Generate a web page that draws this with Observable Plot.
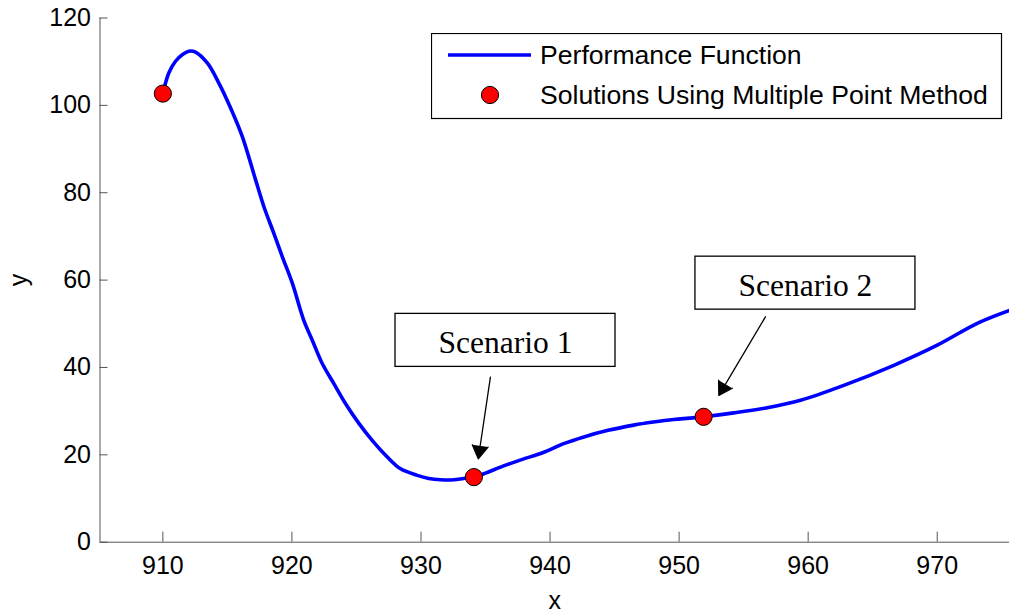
<!DOCTYPE html>
<html>
<head>
<meta charset="utf-8">
<script src="https://cdn.jsdelivr.net/npm/d3@7"></script>
<script src="https://cdn.jsdelivr.net/npm/@observablehq/plot@0.6"></script>
<style>
  html, body { margin: 0; padding: 0; background: #fff; overflow: hidden; }
  #wrap { position: relative; width: 1009px; height: 613px; }
  #legend { position: absolute; left: 431px; top: 33px; }
</style>
</head>
<body>
<div id="wrap"></div>
<script>
// Performance function, sampled along x
const curveX = [910.0, 910.46, 910.98, 911.5, 912.01, 912.53, 913.44, 914.34, 915.25, 916.15,
  917.18, 917.83, 918.6, 919.25, 920.03, 920.92, 921.57, 922.35, 923.25, 924.16,
  925.19, 926.22, 927.39, 928.42, 929.71, 930.6, 931.52, 932.55, 933.3, 934.1,
  935.0, 936.16, 937.8, 939.52, 941.0, 942.62, 944.5, 946.49, 948.0, 949.59,
  950.8, 951.87, 954.24, 956.83, 959.41, 962.76, 966.64, 970.0, 973.1, 975.55];
const curveY = [102.7, 107.4, 110.1, 111.6, 112.4, 112.2, 109.7, 105.1, 99.4, 92.9,
  83.0, 76.8, 70.7, 65.4, 59.3, 50.8, 46.3, 40.9, 36.3, 31.7,
  27.2, 23.3, 19.5, 16.8, 15.3, 14.6, 14.3, 14.3, 14.6, 14.9,
  15.8, 17.2, 18.9, 20.6, 22.5, 24.1, 25.6, 26.8, 27.5, 28.1,
  28.4, 28.7, 29.6, 30.8, 32.5, 35.9, 40.5, 45.1, 50.1, 53.0];

// Solutions found with the multiple point method
const solutionX = [910.0, 934.1, 951.9];
const solutionY = [102.7, 14.9, 28.7];

// Series names shown in the legend
const seriesNames = ["Performance Function", "Solutions Using Multiple Point Method"];

// Axis ticks
const xTicks = [910, 920, 930, 940, 950, 960, 970];
const yTicks = [0, 20, 40, 60, 80, 100, 120];
const xDomain = [905.13, 975.6];
const yDomain = [0, 120];

// Scenario call-outs: label text, label centre and arrow (data units)
const scenarioLabels = ["Scenario 1", "Scenario 2"];
const labelAt = [[936.55, 46.2], [959.79, 59.3]];
const arrowFrom = [[935.38, 37.8], [956.69, 51.6]];
const arrowTo = [[934.44, 19.1], [953.08, 33.6]];

const curve = curveX.map((x, i) => ({x, y: curveY[i]}));
const solutions = solutionX.map((x, i) => ({x, y: solutionY[i]}));
const notes = scenarioLabels.map((label, i) => ({
  label,
  x: labelAt[i][0], y: labelAt[i][1],
  x1: arrowFrom[i][0], y1: arrowFrom[i][1],
  x2: arrowTo[i][0], y2: arrowTo[i][1]
}));

const axisColor = "#555";
const sans = "'Liberation Sans', Arial, Helvetica, sans-serif";
const serif = "'Liberation Serif', 'Times New Roman', serif";

const chart = Plot.plot({
  width: 1009,
  height: 613,
  marginLeft: 99.5,
  marginRight: 0,
  marginTop: 17.5,
  marginBottom: 71.3,
  style: {fontFamily: sans, fontSize: "25px", color: "#000", background: "#fff"},
  x: {domain: xDomain},
  y: {domain: yDomain},
  marks: [
    // axis lines
    Plot.ruleY([yDomain[0]], {stroke: axisColor, strokeWidth: 1}),
    Plot.ruleX([xDomain[0]], {y1: yDomain[0], y2: yDomain[1], stroke: axisColor, strokeWidth: 1}),
    // inward tick marks
    Plot.ruleX(xTicks, {x: d => d, y1: yDomain[0], y2: yDomain[0], insetBottom: 10, stroke: axisColor}),
    Plot.ruleY(yTicks, {y: d => d, x1: xDomain[0], x2: xDomain[0], insetRight: -8, stroke: axisColor}),
    Plot.axisX({ticks: xTicks, tickSize: 0, tickPadding: 13.6, fontSize: 25,
      label: "x", labelArrow: false, labelAnchor: "center", labelOffset: 67}),
    Plot.axisY({ticks: yTicks, tickSize: 0, tickPadding: 9, fontSize: 25,
      label: "y", labelArrow: false, labelAnchor: "center", labelOffset: 91}),
    // performance function
    Plot.line(curve, {x: "x", y: "y", stroke: "#0000ff", strokeWidth: 3.6, curve: "catmull-rom"}),
    // solutions
    Plot.dot(solutions, {x: "x", y: "y", r: 8.6, fill: "#ff0000", stroke: "#000", strokeWidth: 1}),
    // scenario call-outs
    Plot.rect(notes, {x1: "x", x2: "x", y1: "y", y2: "y",
      insetLeft: -110, insetRight: -110, insetTop: -26.5, insetBottom: -26.5,
      fill: "#fff", stroke: "#000", strokeWidth: 1.3}),
    Plot.text(notes, {x: "x", y: "y", text: "label", fontFamily: serif, fontSize: 31.5, dy: 3, fill: "#000"}),
    Plot.arrow(notes, {x1: "x1", y1: "y1", x2: "x2", y2: "y2",
      stroke: "#000", fill: "#000", strokeWidth: 1.3, headLength: 17.6, headAngle: 63})
  ]
});

const wrap = document.getElementById("wrap");
wrap.appendChild(chart);

// Legend box
const legend = d3.select(wrap).append("svg")
  .attr("id", "legend")
  .attr("width", 572)
  .attr("height", 87)
  .style("font-family", sans)
  .style("font-size", "26.6px");
legend.append("rect")
  .attr("x", 0.5).attr("y", 0.5).attr("width", 570).attr("height", 85)
  .attr("fill", "#fff").attr("stroke", "#000").attr("stroke-width", 1.2);
legend.append("line")
  .attr("x1", 17).attr("x2", 100).attr("y1", 22).attr("y2", 22)
  .attr("stroke", "#0000ff").attr("stroke-width", 3.6);
legend.append("circle")
  .attr("cx", 59).attr("cy", 62).attr("r", 8.6)
  .attr("fill", "#ff0000").attr("stroke", "#000").attr("stroke-width", 1);
legend.selectAll("text.entry")
  .data(seriesNames)
  .join("text")
  .attr("class", "entry")
  .attr("x", 109)
  .attr("y", (d, i) => i === 0 ? 31.3 : 71)
  .attr("fill", "#000")
  .text(d => d);
</script>
</body>
</html>
